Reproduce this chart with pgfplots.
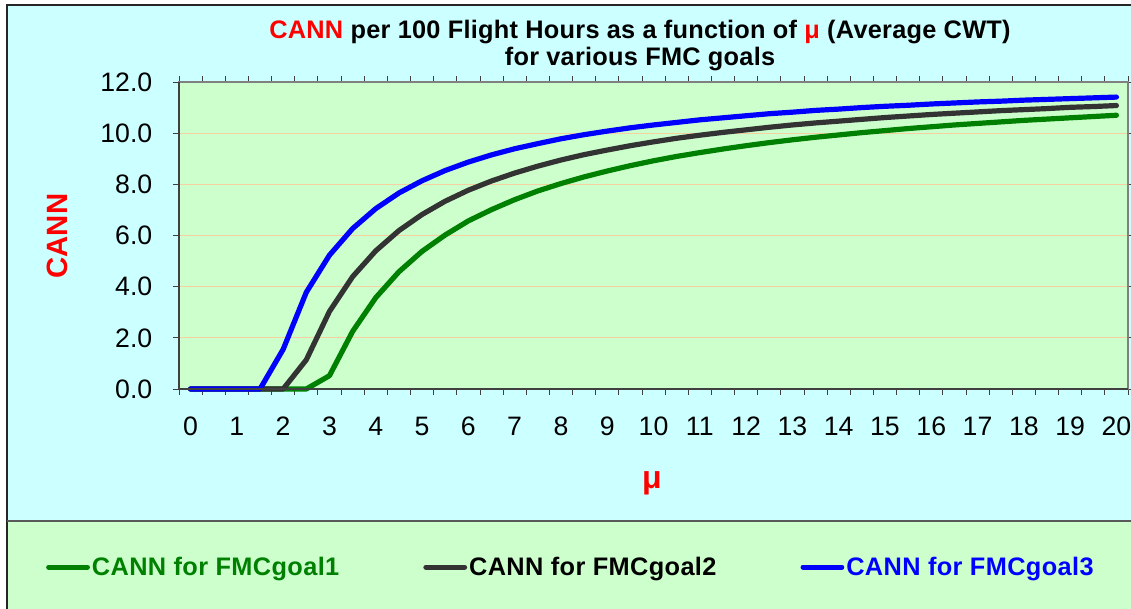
\documentclass[border=0pt]{standalone}
\usepackage{fontspec}
\setmainfont{Liberation Sans}
\usepackage{pgfplots}
\usepackage{pgfplotstable}
\pgfplotsset{compat=1.18}
\definecolor{bgcyan}{HTML}{CCFFFF}
\definecolor{bggreen}{HTML}{CCFFCC}
\definecolor{gridc}{HTML}{F8CFA0}
\definecolor{sgreen}{HTML}{008000}
\definecolor{sdark}{HTML}{333333}
\definecolor{sblue}{HTML}{0000FF}
\definecolor{axdark}{HTML}{404040}

\pgfplotstableread{
mu   g1     g2     g3
0    0      0      0
0.5  0      0      0
1    0      0      0
1.5  0      0      0
2    0      0      1.55
2.5  0      1.14   3.78
3    0.52   3.03   5.23
3.5  2.25   4.39   6.27
4    3.57   5.40   7.05
4.5  4.58   6.19   7.66
5    5.38   6.82   8.14
5.5  6.02   7.34   8.54
6    6.57   7.77   8.87
6.5  7.01   8.13   9.15
7    7.40   8.44   9.39
7.5  7.74   8.71   9.59
8    8.03   8.95   9.78
8.5  8.29   9.16   9.94
9    8.52   9.34   10.08
9.5  8.73   9.51   10.21
10   8.92   9.66   10.32
10.5 9.09   9.80   10.42
11   9.24   9.92   10.52
11.5 9.38   10.03  10.60
12   9.51   10.13  10.68
12.5 9.63   10.23  10.76
13   9.74   10.32  10.82
13.5 9.84   10.40  10.89
14   9.93   10.47  10.94
14.5 10.02  10.54  11.00
15   10.10  10.61  11.05
15.5 10.18  10.67  11.09
16   10.25  10.73  11.14
16.5 10.32  10.78  11.18
17   10.38  10.83  11.22
17.5 10.44  10.88  11.25
18   10.50  10.92  11.29
18.5 10.55  10.96  11.32
19   10.60  11.01  11.35
19.5 10.65  11.04  11.38
20   10.70  11.08  11.41
}\datatable

\begin{document}
\begin{tikzpicture}
\useasboundingbox (0,0) rectangle (848.25pt,456.75pt);
\fill[white] (0,0) rectangle (848.25pt,456.75pt);
\fill[bgcyan] (5.25pt,66pt) rectangle (848.25pt,453pt);
\fill[bggreen] (5.25pt,0pt) rectangle (848.25pt,66pt);
\draw[black!85, line width=1.3pt] (5.25pt,0pt) -- (5.25pt,453pt) -- (848.25pt,453pt);
\draw[black!65, line width=0.9pt] (5.25pt,66pt) -- (848.25pt,66pt);

\begin{axis}[
  at={(134.25pt,165pt)}, anchor=south west,
  scale only axis, width=711.75pt, height=230.25pt,
  xmin=-0.25, xmax=20.25, ymin=0, ymax=12,
  clip=false,
  axis background/.style={fill=bggreen},
  axis line style={draw=gray, line width=0.8pt},
  xtick={0,...,20},
  minor xtick={-0.25,0.25,...,20.25},
  ytick={0,2,...,12},
  tick align=outside,
  major x tick style={draw=none},
  minor x tick style={draw=axdark, line width=0.6pt},
  minor tick length=4.5pt,
  major tick length=4.5pt,
  y tick style={draw=axdark, line width=0.6pt},
  ymajorgrids, grid style={draw=gridc, line width=0.7pt},
  /pgf/number format/assume math mode=true,
  yticklabel={\pgfmathprintnumber[fixed,fixed zerofill,precision=1]{\tick}},
  ticklabel style={font=\fontsize{20}{22}\selectfont},
  yticklabel style={xshift=-12pt},
  xticklabel style={yshift=-13pt},
  legend columns=3,
  legend style={draw=none, fill=none, at={(0.413,-0.58)}, anchor=center,
    font=\fontsize{19}{21}\selectfont\bfseries\addfontfeature{LetterSpace=1.5},
    /tikz/every even column/.append style={column sep=61.5pt},
    nodes={inner sep=1.5pt}},
  legend image code/.code={\draw[#1, line width=3.75pt, line cap=round] (1.9pt,0pt) -- (31pt,0pt);},
  every axis plot/.append style={line width=3.9pt, line cap=round, line join=round, no markers},
  after end axis/.code={
    \draw[axdark, line width=1pt] (rel axis cs:0,1) -- (rel axis cs:0,0) -- (rel axis cs:1,0);
  },
]
\addplot[sgreen] table[x=mu, y=g1] {\datatable};
\addlegendentry{\textcolor{sgreen}{CANN for FMCgoal1}}
\addplot[sdark] table[x=mu, y=g2] {\datatable};
\addlegendentry{\textcolor{black}{CANN for FMCgoal2}}
\addplot[sblue] table[x=mu, y=g3] {\datatable};
\addlegendentry{\textcolor{sblue}{CANN for FMCgoal3}}
\end{axis}

\node[align=center, font=\fontsize{19}{20.5}\selectfont\bfseries\addfontfeature{LetterSpace=1}] at (480pt,422.5pt)
  {\textcolor{red}{CANN} per 100 Flight Hours as a function of \textcolor{red}{μ} (Average CWT)\\for various FMC goals};
\node[rotate=90, font=\fontsize{22}{24}\selectfont\bfseries, text=red] at (42.75pt,279.75pt) {CANN};
\node[font=\fontsize{24}{26}\selectfont\bfseries, text=red] at (489pt,94.5pt) {μ};
\end{tikzpicture}
\end{document}
